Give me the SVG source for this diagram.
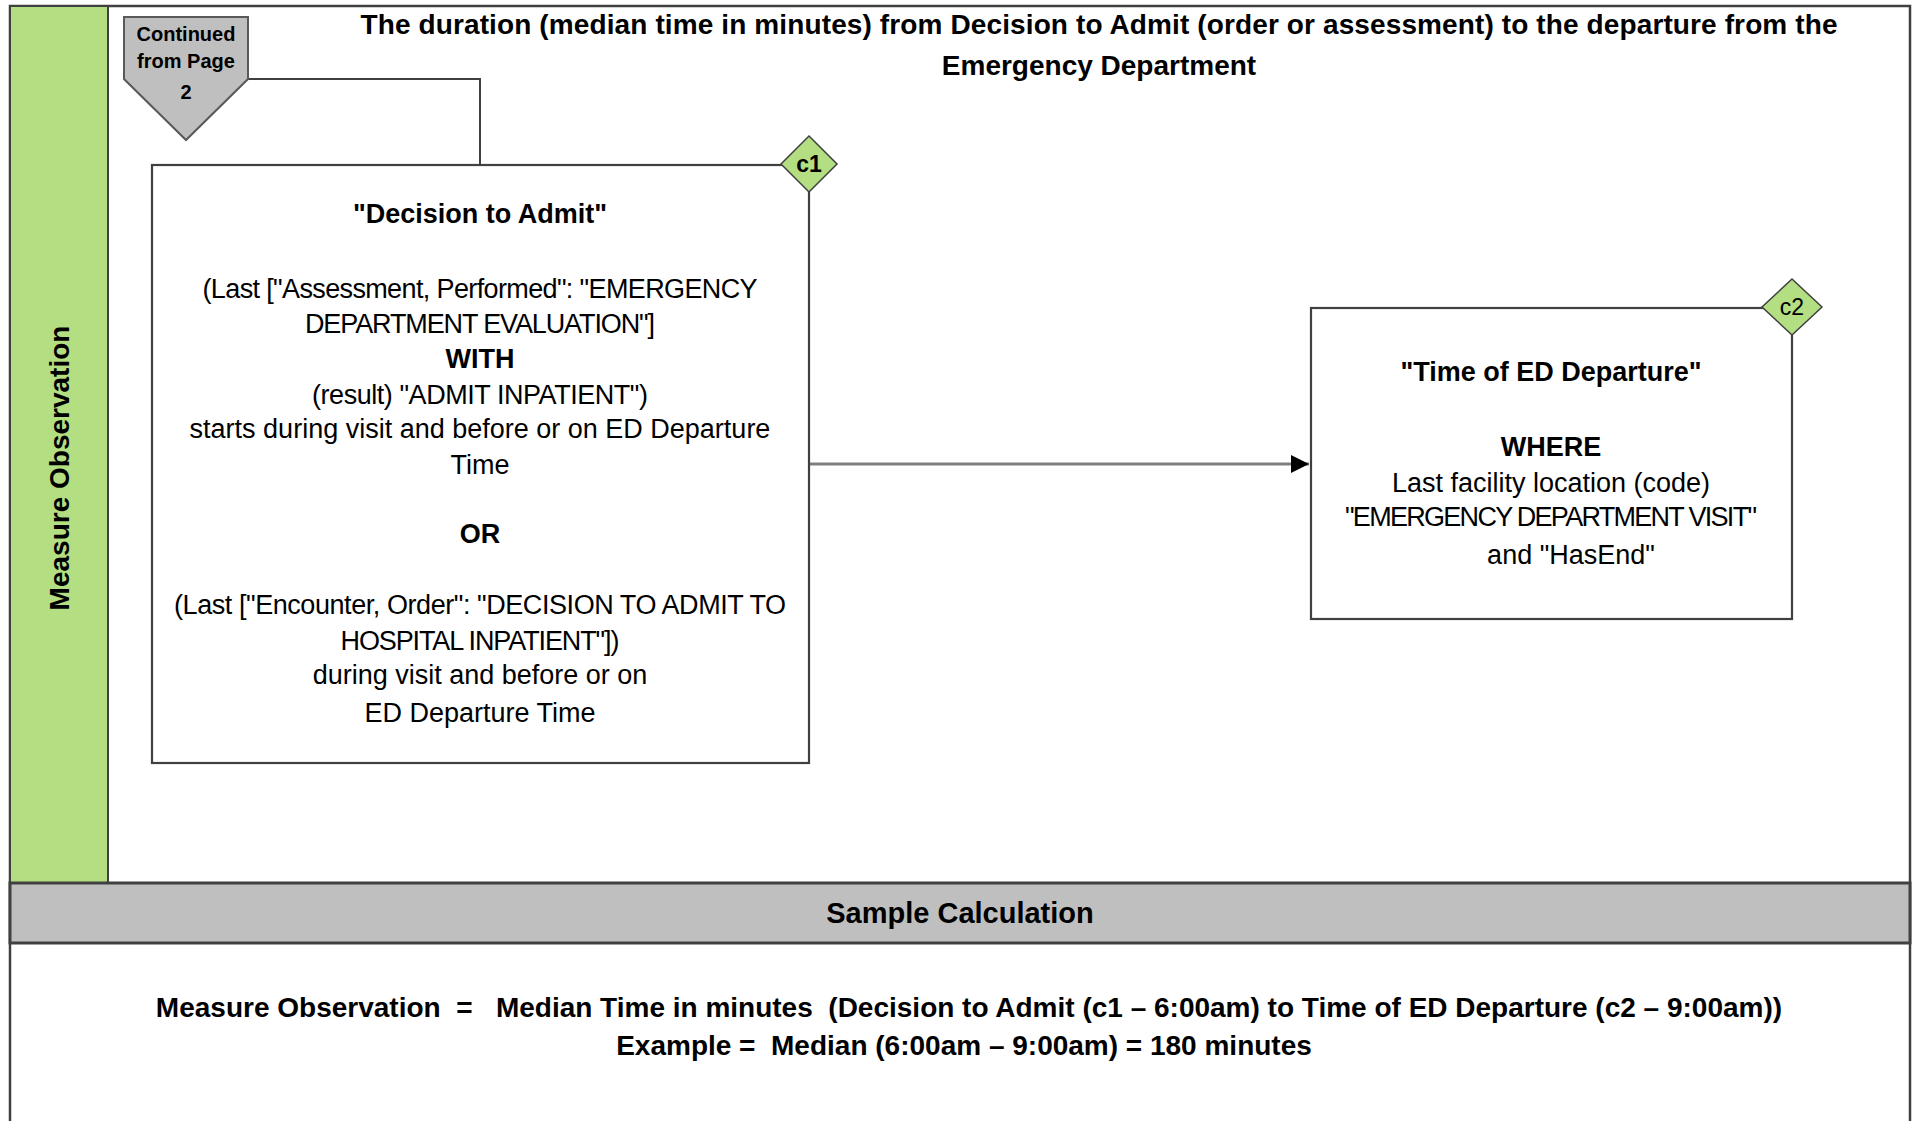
<svg xmlns="http://www.w3.org/2000/svg" width="1917" height="1121" viewBox="0 0 1917 1121">
<defs>
<style>
text{font-family:"Liberation Sans",Arial,sans-serif;fill:#000;dominant-baseline:central;text-anchor:middle;}
.b{font-weight:bold;}
.t{font-size:27px;}
.tb{font-size:27px;font-weight:bold;}
.box{fill:#fff;stroke:#404040;stroke-width:2.2;}
.dia{fill:#b3de81;stroke:#404040;stroke-width:1.5;}
.conn{fill:none;stroke:#404040;stroke-width:2;}
.arrow{fill:none;stroke:#7f7f7f;stroke-width:3;}
</style>
<marker id="ah" viewBox="0 0 10 10" refX="10" refY="5" markerWidth="6" markerHeight="6" markerUnits="strokeWidth" orient="auto">
<path d="M0,0 L10,5 L0,10 z" fill="#000"/>
</marker>
</defs>
<rect width="1917" height="1121" fill="#fff"/>
<g id="frame">
<rect x="10" y="6" width="1900" height="1125" fill="#fff" stroke="#404040" stroke-width="2.5"/>
<rect x="10" y="6" width="98" height="877" fill="#b3de81" stroke="#404040" stroke-width="2"/>
<text class="b" x="59" y="468" font-size="28" transform="rotate(-90 59 468)">Measure Observation</text>
</g>
<g id="title">
<text class="b" x="1099" y="24" font-size="28" textLength="1477">The duration (median time in minutes) from Decision to Admit (order or assessment) to the departure from the</text>
<text class="b" x="1099" y="65" font-size="28">Emergency Department</text>
</g>
<g id="connectors">
<polyline class="conn" points="248,79 480,79 480,165"/>
<line class="arrow" x1="809" y1="464" x2="1309" y2="464" marker-end="url(#ah)"/>
</g>
<g id="offpage">
<polygon points="124,17 248,17 248,79 186,140 124,79" fill="#bfbfbf" stroke="#595959" stroke-width="2"/>
<text class="b" x="186" y="34" font-size="20">Continued</text>
<text class="b" x="186" y="61" font-size="20">from Page</text>
<text class="b" x="186" y="92" font-size="20">2</text>
</g>
<g id="decision">
<rect class="box" x="152" y="165" width="657" height="598"/>
<text class="tb" x="480" y="214">"Decision to Admit"</text>
<text class="t" x="480" y="289" textLength="555">(Last ["Assessment, Performed": "EMERGENCY</text>
<text class="t" x="480" y="324" textLength="350">DEPARTMENT EVALUATION"]</text>
<text class="tb" x="480" y="359">WITH</text>
<text class="t" x="480" y="395" textLength="336">(result) "ADMIT INPATIENT")</text>
<text class="t" x="480" y="429">starts during visit and before or on ED Departure</text>
<text class="t" x="480" y="465">Time</text>
<text class="tb" x="480" y="534">OR</text>
<text class="t" x="480" y="605" textLength="612">(Last ["Encounter, Order": "DECISION TO ADMIT TO</text>
<text class="t" x="480" y="641" textLength="279">HOSPITAL INPATIENT"])</text>
<text class="t" x="480" y="675">during visit and before or on</text>
<text class="t" x="480" y="713">ED Departure Time</text>
</g>
<g id="c1">
<polygon class="dia" points="809,136 837,164 809,192 781,164"/>
<text class="b" x="809" y="164" font-size="23">c1</text>
</g>
<g id="departure">
<rect class="box" x="1311" y="308" width="481" height="311"/>
<text class="tb" x="1551" y="372">"Time of ED Departure"</text>
<text class="tb" x="1551" y="447">WHERE</text>
<text class="t" x="1551" y="483">Last facility location (code)</text>
<text class="t" x="1551" y="517" textLength="412">"EMERGENCY DEPARTMENT VISIT"</text>
<text class="t" x="1571" y="555">and "HasEnd"</text>
</g>
<g id="c2">
<polygon class="dia" points="1792,279 1822,307 1792,335 1762,307"/>
<text x="1792" y="307" font-size="23">c2</text>
</g>
<g id="sample">
<rect x="10" y="883" width="1900" height="60" fill="#bfbfbf" stroke="#404040" stroke-width="3"/>
<text class="b" x="960" y="913" font-size="29">Sample Calculation</text>
<text class="b" x="969" y="1007" font-size="28" xml:space="preserve">Measure Observation  =   Median Time in minutes  (Decision to Admit (c1 – 6:00am) to Time of ED Departure (c2 – 9:00am))</text>
<text class="b" x="964" y="1045" font-size="28" xml:space="preserve">Example =  Median (6:00am – 9:00am) = 180 minutes</text>
</g>
</svg>
